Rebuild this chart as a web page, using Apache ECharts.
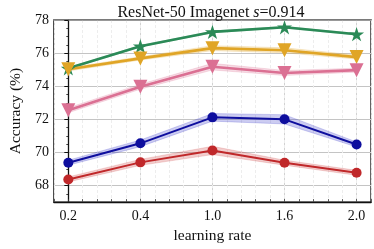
<!DOCTYPE html>
<html><head><meta charset="utf-8">
<script src="https://cdn.jsdelivr.net/npm/echarts@6/dist/echarts.min.js"></script>
<style>html,body{margin:0;padding:0;background:#fff}#c{width:374px;height:249px}</style>
</head><body><div id="c"></div>
<script>
const lrLabels = ['0.2', '0.4', '1.0', '1.6', '2.0'];
const yTicks = [68, 70, 72, 74, 76, 78];
const greenMean = [75.08, 76.42, 77.28, 77.56, 77.14];
const greenStd = [0.05, 0.05, 0.05, 0.05, 0.05];
const orangeMean = [75.02, 75.68, 76.3, 76.17, 75.76];
const orangeStd = [0.1, 0.1, 0.15, 0.15, 0.12];
const pinkMean = [72.55, 73.97, 75.18, 74.8, 74.97];
const pinkStd = [0.15, 0.15, 0.2, 0.15, 0.12];
const blueMean = [69.38, 70.55, 72.12, 72.0, 70.48];
const blueStd = [0.15, 0.2, 0.23, 0.28, 0.15];
const redMean = [68.37, 69.4, 70.12, 69.38, 68.77];
const redStd = [0.15, 0.18, 0.25, 0.15, 0.15];

const STEP = 5; // each category occupies 5 minor-grid units
const pos = i => i * STEP;
const FONT = 'Liberation Serif';
const STAR = 'path://M0,-100 L22.45,-30.9 L95.1,-30.9 L36.3,11.8 L58.8,80.9 L0,38.2 L-58.8,80.9 L-36.3,11.8 L-95.1,-30.9 L-22.45,-30.9 Z';

function band(mean, std, color) {
  const data = mean.map((m, i) => [pos(i), m - std[i], m + std[i]]);
  return {
    type: 'custom', xAxisIndex: 0, yAxisIndex: 0, z: 1, silent: true,
    data: data,
    renderItem: function (params, api) {
      if (params.dataIndex !== 0) return null;
      const up = data.map(d => api.coord([d[0], d[2]]));
      const lo = data.map(d => api.coord([d[0], d[1]])).reverse();
      return { type: 'polygon', shape: { points: up.concat(lo) },
        style: { fill: color, stroke: color, lineWidth: 0.8 } };
    }
  };
}
function line(mean, color, symbol, size, width, rotate) {
  return {
    type: 'line', xAxisIndex: 0, yAxisIndex: 0, z: 3,
    data: mean.map((m, i) => [pos(i), m]),
    symbol: symbol, symbolSize: size, symbolRotate: rotate || 0, symbolKeepAspect: true,
    showSymbol: true, animation: false,
    lineStyle: { color: color, width: width },
    itemStyle: { color: color, borderWidth: 0 }
  };
}

const chart = echarts.init(document.getElementById('c'));
chart.setOption({
  animation: false,
  textStyle: { fontFamily: FONT },
  title: {
    text: '{a|ResNet-50 Imagenet }{i|s}{a|=0.914}', left: 206, top: 0, textAlign: 'center',
    textStyle: { fontWeight: 'normal', rich: {
      a: { fontFamily: FONT, fontSize: 16, fontWeight: 'normal', color: '#111' },
      i: { fontFamily: FONT, fontSize: 16, fontWeight: 'normal', fontStyle: 'italic', color: '#111' }
    } }
  },
  grid: { left: 41, right: 3, top: 20, bottom: 41, show: true, borderColor: '#111', borderWidth: 1.3, backgroundColor: 'transparent' },
  xAxis: [
    { type: 'value', position: 'bottom', min: -1, max: 21, splitNumber: 4, minInterval: 5, maxInterval: 5,
      name: 'learning rate', nameLocation: 'middle', nameGap: 22,
      nameTextStyle: { fontFamily: FONT, fontSize: 15.5, color: '#111' },
      axisLine: { show: true, lineStyle: { color: '#111', width: 1.3 } },
      axisTick: { show: false },
      axisLabel: { fontFamily: FONT, fontSize: 14, color: '#111', margin: 7,
        formatter: v => (v >= 0 && v % STEP === 0 && v / STEP < lrLabels.length) ? lrLabels[v / STEP] : '' },
      splitLine: { show: true, lineStyle: { color: '#d2d2d2', width: 1 } } },
    { type: 'value', position: 'bottom', min: -1, max: 21, interval: 1,
      axisLine: { show: false }, axisLabel: { show: false },
      axisTick: { show: true, inside: true, length: 3, lineStyle: { color: '#333', width: 0.8 } },
      splitLine: { show: true, lineStyle: { color: '#ededed', width: 1, type: [3, 2] } } },
    { type: 'value', position: 'top', min: -1, max: 21,
      axisLine: { show: true, lineStyle: { color: '#8a8a8a', width: 1.5 } },
      axisTick: { show: false }, axisLabel: { show: false }, splitLine: { show: false } }
  ],
  yAxis: [
    { type: 'value', position: 'left', min: 67, max: 78, splitNumber: 5, minInterval: 2, maxInterval: 2,
      name: 'Accuracy (%)', nameLocation: 'middle', nameGap: 25,
      nameTextStyle: { fontFamily: FONT, fontSize: 15.5, color: '#111' },
      axisLine: { show: true, lineStyle: { color: '#111', width: 1.3 } },
      axisTick: { show: true, length: 4, lineStyle: { color: '#111' } },
      axisLabel: { fontFamily: FONT, fontSize: 14, color: '#111', margin: 5,
        formatter: v => yTicks.indexOf(v) >= 0 ? String(v) : '' },
      splitLine: { show: true, lineStyle: { color: '#c4c4c4', width: 1 } } },
    { type: 'value', position: 'left', min: 67, max: 78, interval: 0.5,
      axisLine: { show: false }, axisLabel: { show: false },
      axisTick: { show: true, length: 2, lineStyle: { color: '#111', width: 0.8 } },
      splitLine: { show: false } }
  ],
  series: [
    band(redMean, redStd, 'rgba(205,60,60,0.25)'),
    band(blueMean, blueStd, 'rgba(50,50,200,0.25)'),
    band(pinkMean, pinkStd, 'rgba(219,112,147,0.25)'),
    band(orangeMean, orangeStd, 'rgba(224,165,38,0.25)'),
    band(greenMean, greenStd, 'rgba(43,138,87,0.25)'),
    line(greenMean, '#2b8a57', STAR, 15, 2.6),
    line(orangeMean, '#e0a526', 'triangle', 14, 2.6, 180),
    line(pinkMean, '#db7093', 'triangle', 14, 2.6, 180),
    line(blueMean, '#0e0e9e', 'circle', 10, 2),
    line(redMean, '#c0282a', 'circle', 10, 2)
  ]
});
</script></body></html>
